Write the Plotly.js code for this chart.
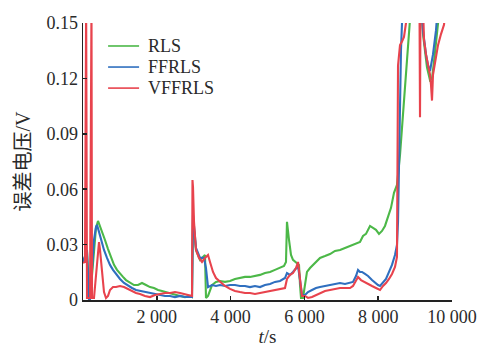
<!DOCTYPE html>
<html>
<head>
<meta charset="utf-8">
<script src="https://cdn.plot.ly/plotly-3.0.1.min.js"></script>
<style>html,body{margin:0;padding:0;background:#fff;}#chart{width:485px;height:347px;}</style>
</head>
<body>
<div id="chart"></div>
<script>
// Series names
const seriesNames = ["RLS", "FFRLS", "VFFRLS"];

// RLS (green)
const tRLS = [0,54,108,136,163,190,244,298,352,407,
  461,515,596,678,759,840,921,1003,1084,1165,
  1274,1382,1491,1599,1707,1816,1924,2033,2141,2249,
  2358,2493,2629,2764,2900,2954,2981,3062,3171,3306,
  3333,3388,3496,3604,3713,3848,3984,4119,4255,4390,
  4526,4661,4797,4932,5068,5203,5339,5447,5501,5528,
  5583,5637,5691,5772,5854,5881,5908,5962,6016,6070,
  6152,6287,6423,6558,6694,6829,6965,7100,7236,7371,
  7507,7588,7669,7778,7859,7940,8022,8103,8184,8266,
  8347,8428,8509,8591,8672,8726,8808,8862,8997,9160,
  9214,9268,9322,9404,9458,9512,9566,9621,9675];
const vRLS = [0.0206,0.0238,0.026,0.0163,0.0011,0.0005,0.0136,0.0298,0.039,0.0428,
  0.0401,0.0369,0.0325,0.0276,0.0233,0.019,0.0163,0.0141,0.0125,0.0108,
  0.0092,0.0081,0.0081,0.0092,0.0081,0.007,0.0065,0.0054,0.0049,0.0043,
  0.0033,0.0027,0.0022,0.0016,0.0022,0.0016,0.0434,0.0271,0.0217,0.0244,
  0.0011,0.0022,0.0081,0.0098,0.0103,0.0098,0.0103,0.0114,0.0119,0.0125,
  0.0125,0.013,0.0136,0.0146,0.0152,0.0163,0.0173,0.0184,0.0206,0.0423,
  0.0325,0.0244,0.0217,0.0206,0.019,0.0081,0.0011,0.0011,0.0081,0.0152,
  0.0173,0.0201,0.0228,0.0238,0.0249,0.0266,0.0271,0.0282,0.0293,0.0304,
  0.0314,0.0347,0.0358,0.0401,0.039,0.038,0.0358,0.0374,0.0401,0.0455,
  0.0499,0.058,0.0623,0.0786,0.1,0.118,0.138,0.152,0.16,0.16,
  0.144,0.133,0.126,0.119,0.12,0.129,0.138,0.149,0.16];

// FFRLS (blue)
const tFFRLS = [0,54,108,136,163,190,244,298,352,379,
  434,488,569,650,732,813,894,1003,1111,1220,
  1328,1436,1545,1680,1816,1951,2087,2222,2358,2493,
  2629,2764,2900,2954,2981,3008,3062,3171,3279,3333,
  3388,3496,3604,3713,3848,3984,4119,4255,4390,4526,
  4661,4797,4932,5068,5203,5339,5474,5528,5610,5691,
  5772,5827,5881,5935,6016,6097,6206,6314,6423,6558,
  6694,6829,6965,7100,7236,7317,7398,7453,7507,7561,
  7642,7724,7832,7913,7995,8049,8130,8211,8293,8374,
  8455,8509,8537,8564,8591,8618,8645,8699,9160,9214,
  9295,9350,9404,9485,9566,9621];
const vFFRLS = [0.0206,0.0244,0.0271,0.0136,0.0005,0.0005,0.0163,0.0325,0.0396,0.0407,
  0.0369,0.0325,0.0271,0.0228,0.019,0.0163,0.0141,0.0114,0.0092,0.0076,
  0.0065,0.0054,0.0049,0.0043,0.0038,0.0033,0.0027,0.0022,0.0022,0.0016,
  0.0022,0.0016,0.0016,0.0016,0.0461,0.039,0.0282,0.0228,0.0228,0.0173,
  0.007,0.0081,0.0076,0.0081,0.0076,0.0081,0.0081,0.0076,0.0076,0.007,
  0.0076,0.007,0.0081,0.0087,0.0098,0.0103,0.0119,0.0146,0.0136,0.0152,
  0.0173,0.0184,0.0108,0.0027,0.0027,0.0043,0.0054,0.0065,0.007,0.0076,
  0.0081,0.0087,0.0092,0.0087,0.0092,0.0098,0.013,0.0163,0.0152,0.0152,
  0.0141,0.013,0.0108,0.0092,0.0081,0.0076,0.0098,0.0114,0.0152,0.019,
  0.0244,0.0298,0.0423,0.081,0.126,0.1355,0.150,0.16,0.16,0.146,
  0.133,0.127,0.124,0.133,0.146,0.16];

// VFFRLS (red)
const tVFFRLS = [0,54,85,108,136,163,190,230,244,298,
  352,407,434,461,515,569,623,678,732,813,
  894,1003,1111,1220,1328,1436,1545,1680,1816,1951,
  2087,2222,2358,2493,2629,2764,2900,2954,2967,2981,
  3008,3062,3144,3225,3306,3388,3442,3523,3604,3713,
  3848,3984,4119,4255,4390,4526,4661,4797,4932,5068,
  5203,5339,5474,5528,5610,5691,5772,5827,5854,5881,
  5935,6016,6097,6206,6314,6423,6558,6694,6829,6965,
  7100,7236,7317,7398,7453,7534,7615,7724,7832,7940,
  8049,8130,8211,8293,8374,8455,8509,8537,8591,8645,
  8699,8753,8808,9119,9133,9146,9214,9241,9295,9350,
  9404,9431,9458,9485,9539,9621,9702,9783,9837];
const vVFFRLS = [0.0201,0.0206,0.16,0.0011,0.0011,0.0011,0.0011,0.16,0.0011,0.0011,
  0.0136,0.0282,0.0314,0.0271,0.0136,0.0043,0.0011,0.0022,0.0054,0.007,
  0.007,0.0076,0.007,0.006,0.0049,0.0038,0.0033,0.0022,0.0016,0.0027,
  0.0033,0.0038,0.0038,0.0043,0.0038,0.0033,0.0027,0.0022,0.065,0.0612,
  0.0423,0.0271,0.0228,0.0206,0.0228,0.0244,0.0206,0.0152,0.0119,0.0098,
  0.0076,0.006,0.0049,0.0043,0.0038,0.0038,0.0033,0.0038,0.0043,0.0049,
  0.0054,0.006,0.0065,0.0114,0.0136,0.0146,0.0173,0.0206,0.0163,0.0098,
  0.0022,0.0022,0.0011,0.0016,0.0027,0.0038,0.0049,0.0054,0.006,0.0065,
  0.0065,0.0065,0.0076,0.0108,0.0125,0.0108,0.0098,0.0087,0.0076,0.0065,
  0.0054,0.0076,0.0092,0.0114,0.0141,0.0179,0.0233,0.127,0.138,0.140,
  0.1425,0.150,0.16,0.16,0.099,0.16,0.16,0.141,0.133,0.127,
  0.122,0.1165,0.108,0.122,0.129,0.138,0.144,0.149,0.16];

// Axis ticks
const xTickVals = [2000, 4000, 6000, 8000, 10000];
const xTickText = ["2 000", "4 000", "6 000", "8 000", "10 000"];
const yTickVals = [0, 0.03, 0.06, 0.09, 0.12, 0.15];
const yTickText = ["0", "0.03", "0.06", "0.09", "0.12", "0.15"];

const colors = ["#4cb848", "#2f6fbf", "#e8434d"];
const serif = "'Liberation Serif', 'DejaVu Serif', serif";
const textColor = "#2a2a2a";

const traces = [
  {x: tRLS, y: vRLS, name: seriesNames[0]},
  {x: tFFRLS, y: vFFRLS, name: seriesNames[1]},
  {x: tVFFRLS, y: vVFFRLS, name: seriesNames[2]}
].map((t, i) => Object.assign(t, {
  type: "scatter", mode: "lines", showlegend: false,
  line: {color: colors[i], width: 2.1}
}));

// Custom legend (paper coordinates) to match the compact row spacing
const legendRowsY = [0.917, 0.841, 0.765];
const legendShapes = seriesNames.map((n, i) => ({
  type: "line", xref: "paper", yref: "paper",
  x0: 0.068, x1: 0.152, y0: legendRowsY[i], y1: legendRowsY[i],
  line: {color: colors[i], width: 1.6}
}));
const legendAnnotations = seriesNames.map((n, i) => ({
  xref: "paper", yref: "paper", x: 0.172, y: legendRowsY[i],
  xanchor: "left", yanchor: "middle", showarrow: false,
  text: n, font: {family: serif, size: 18, color: textColor}
}));

const layout = {
  width: 485, height: 347,
  margin: {l: 83, r: 33, t: 23, b: 47},
  paper_bgcolor: "#fff", plot_bgcolor: "#fff",
  font: {family: serif, size: 17, color: textColor},
  showlegend: false,
  shapes: legendShapes,
  annotations: legendAnnotations,
  xaxis: {
    range: [0, 10000], autorange: false,
    tickmode: "array", tickvals: xTickVals, ticktext: xTickText,
    ticks: "inside", ticklen: 4, tickwidth: 1.5, tickcolor: "#222",
    showline: true, linecolor: "#222", linewidth: 1.5,
    showgrid: false, zeroline: false,
    tickfont: {family: serif, size: 18, color: textColor},
    title: {text: "<i>t</i>/s", font: {family: serif, size: 19, color: textColor}, standoff: 11}
  },
  yaxis: {
    range: [0, 0.15], autorange: false,
    tickmode: "array", tickvals: yTickVals, ticktext: yTickText,
    ticks: "inside", ticklen: 4, tickwidth: 1.5, tickcolor: "#222",
    showline: true, linecolor: "#222", linewidth: 1.5,
    showgrid: false, zeroline: false,
    tickfont: {family: serif, size: 18, color: textColor},
    title: {text: "<span style=\"font-family:'Noto Sans CJK SC'\">误差电压</span>/V", font: {family: serif, size: 20, color: textColor}, standoff: 10}
  }
};

Plotly.newPlot("chart", traces, layout, {displayModeBar: false, staticPlot: true});
</script>
</body>
</html>
